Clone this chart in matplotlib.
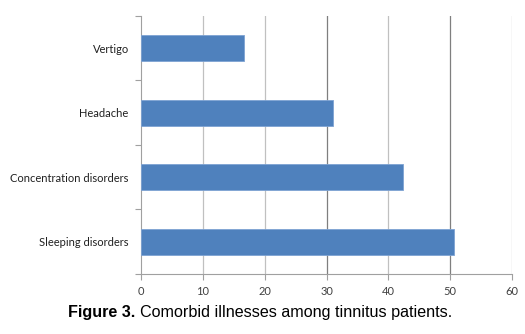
import matplotlib
matplotlib.use("Agg")
import matplotlib.pyplot as plt
import numpy as np

categories = ["Sleeping disorders", "Concentration disorders", "Headache", "Vertigo"]
values = [50.7, 42.4, 31.1, 16.7]
xticks = [0, 10, 20, 30, 40, 50, 60]

fig = plt.figure(figsize=(5.25, 3.34), dpi=100)
ax = fig.add_axes([0.269, 0.180, 0.706, 0.772])

y = np.arange(len(categories))
ax.barh(y, values, height=0.4, color="#4f81bd", edgecolor="#7ea3d3", linewidth=0.6, zorder=3)

ax.set_xlim(0, 60)
ax.set_ylim(-0.5, len(categories) - 0.5)
ax.set_xticks(xticks)
ax.set_xticklabels([str(t) for t in xticks], fontsize=8, color="#404040", family="Lato")
for t in xticks[1:]:
    c = "#7f7f7f" if t in (30, 50) else "#c0c0c0"
    ax.axvline(t, color=c, linewidth=0.9, zorder=1)

ax.set_yticks(y)
ax.set_yticklabels(categories, fontsize=8, color="#202020", family="Lato")
ax.set_yticks(np.arange(-0.5, len(categories)), minor=True)
ax.tick_params(axis="y", which="major", length=0, pad=9)
ax.tick_params(axis="y", which="minor", length=4, color="#a0a0a0", width=0.8)
ax.tick_params(axis="x", length=4, color="#a0a0a0", width=0.8, pad=5)

for s in ["top", "right"]:
    ax.spines[s].set_visible(False)
for s in ["left", "bottom"]:
    ax.spines[s].set_color("#a0a0a0")
    ax.spines[s].set_linewidth(0.8)

t1 = fig.text(0.13, 0.065, "Figure 3.", fontsize=11.6, fontweight="bold", family="Liberation Sans", ha="left", va="center")
fig.canvas.draw()
bb = t1.get_window_extent()
x2 = (bb.x1 + 4) / fig.bbox.width
fig.text(x2, 0.065, "Comorbid illnesses among tinnitus patients.", fontsize=11.6, family="Liberation Sans", ha="left", va="center")

fig.savefig("out.png", dpi=100)
